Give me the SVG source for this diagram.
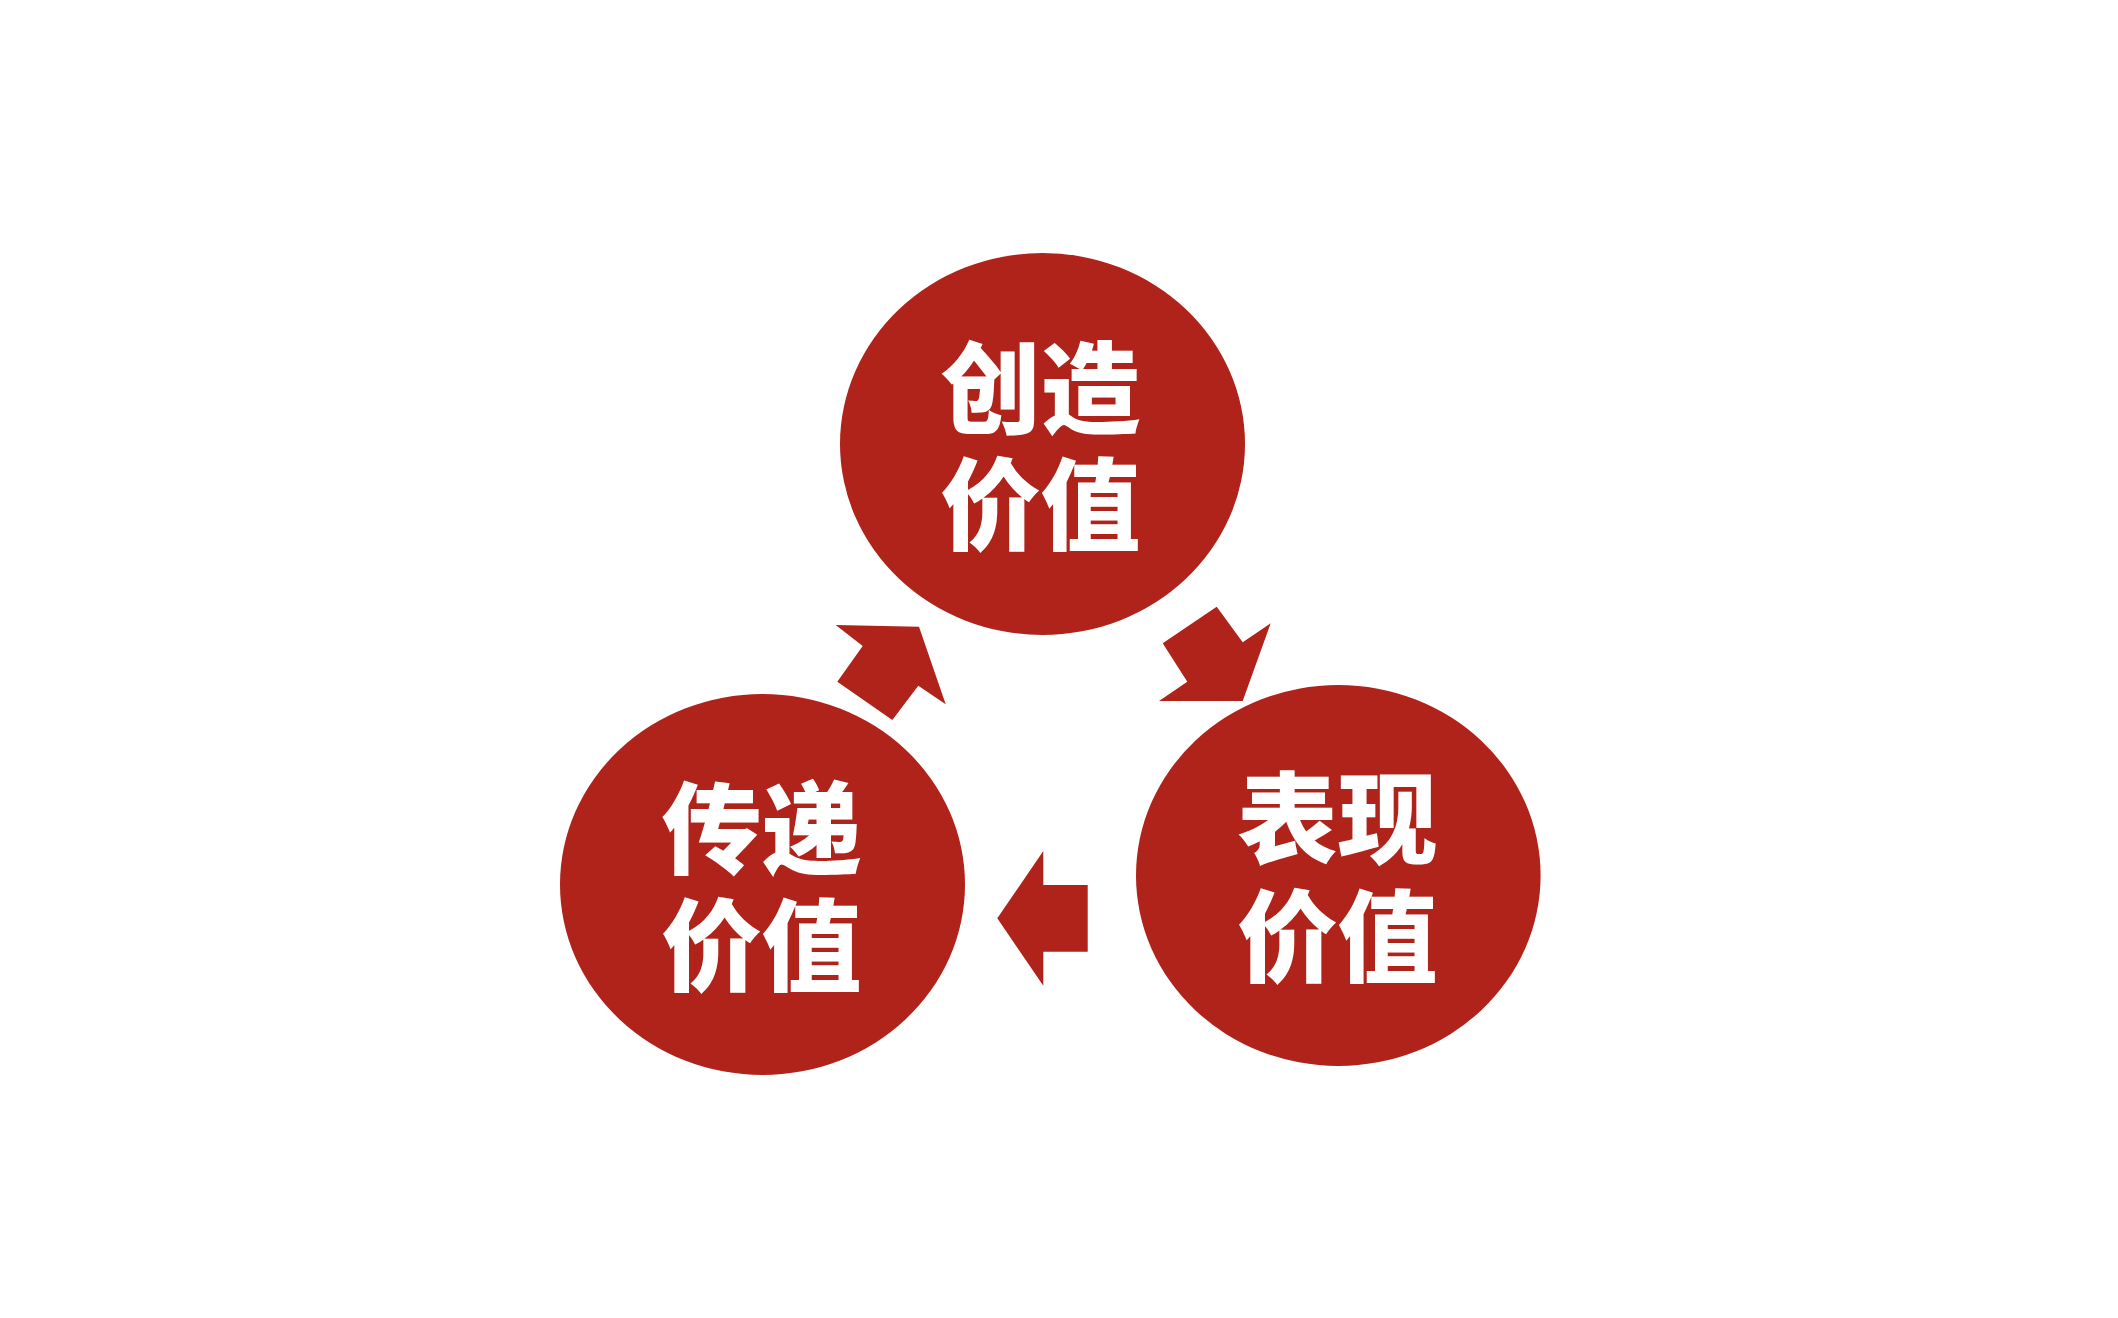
<svg xmlns="http://www.w3.org/2000/svg" width="2118" height="1318" viewBox="0 0 2118 1318">
<style>
.node{fill:#B0231A}
.arrow{fill:#B0231A}
.label{font-family:"Noto Sans CJK SC","Noto Sans",sans-serif;font-weight:900;font-size:100px;fill:#FFFFFF;text-anchor:middle}
</style>
<rect width="2118" height="1318" fill="#FFFFFF"/>
<g id="connectors">
<polygon class="arrow" points="835.7,625 919,626.7 945.7,704.3 918.3,685.7 892.3,720 837.3,681.7 862.7,646"/>
<polygon class="arrow" points="1162.7,643.3 1216.7,606.7 1242.7,642.3 1270.7,623.3 1242.7,701 1159,701 1187.3,681.7"/>
<polygon class="arrow" points="1043.3,851 1043.3,885 1087.7,885 1087.7,951.7 1043.3,951.7 1043.3,985.7 997.3,918.3"/>
</g>
<g id="node-create">
<ellipse class="node" cx="1042.5" cy="444" rx="202.5" ry="191"/>
<text class="label"><tspan x="1040.5" y="425.5">创造</tspan><tspan x="1040.5" y="541.5">价值</tspan></text>
</g>
<g id="node-express">
<ellipse class="node" cx="1338.3" cy="875.5" rx="202.3" ry="190.5"/>
<text class="label"><tspan x="1337.5" y="856">表现</tspan><tspan x="1337.5" y="974">价值</tspan></text>
</g>
<g id="node-deliver">
<ellipse class="node" cx="762.5" cy="884.5" rx="202.5" ry="190.5"/>
<text class="label"><tspan x="761.5" y="865.5">传递</tspan><tspan x="761.5" y="983">价值</tspan></text>
</g>
</svg>
